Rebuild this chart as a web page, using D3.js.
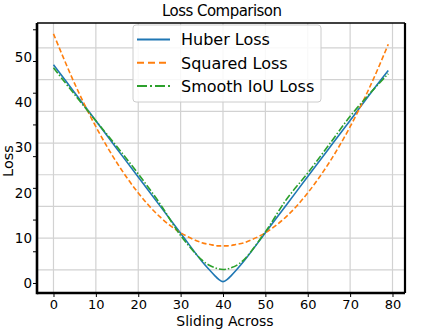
<!DOCTYPE html>
<html>
<head>
<meta charset="utf-8">
<script src="https://cdnjs.cloudflare.com/ajax/libs/d3/7.8.5/d3.min.js"></script>
<style>
body { margin: 0; background: #fff; }
text { font-family: "DejaVu Sans", sans-serif; fill: #000; }
</style>
</head>
<body>
<script>
var W = 423, H = 329;
var margin = {top: 23, right: 18, bottom: 36, left: 37};

// sliding offsets and losses
var xs      = [0, 5, 10, 15, 20, 25, 30, 35, 37, 38, 39, 40, 41, 42, 43, 45, 50, 55, 60, 65, 70, 75, 79];
var huber   = [48.3, 42.1, 35.9, 29.7, 23.5, 17.3, 11.1, 4.9, 2.8, 1.8, 0.9, 0.4, 0.9, 1.8, 2.8, 5.0, 11.2, 17.4, 23.6, 29.8, 36.0, 42.2, 47.0];
var squared = [55.1, 44.1, 34.6, 26.6, 20.0, 14.8, 11.2, 9.0, 8.6, 8.4, 8.3, 8.3, 8.3, 8.4, 8.6, 9.0, 11.2, 14.8, 20.0, 26.6, 34.6, 44.1, 52.8];
var smooth  = [47.6, 41.7, 35.9, 30.2, 24.2, 17.8, 10.6, 5.2, 3.9, 3.5, 3.2, 3.1, 3.2, 3.5, 3.9, 5.3, 11.4, 18.6, 24.4, 30.6, 36.9, 42.3, 46.3];

var seriesNames = ["Huber Loss", "Squared Loss", "Smooth IoU Loss"];
var xTicks = [0, 10, 20, 30, 40, 50, 60, 70, 80];
var yTicks = [0, 10, 20, 30, 40, 50];
var yMinorTicks = [0, 7, 14, 21, 28, 35, 42, 49, 56];
var yGrid = [3, 10, 17, 24, 31, 38, 45, 52];

var colors = ["#1f77b4", "#ff7f0e", "#2ca02c"];
var dashes = [null, "5,2.5", "7,2,1.5,2"];
var legendDashes = [null, "7,4", "10,3,2,3"];

var svg = d3.select("body").append("svg")
	.attr("width", W)
	.attr("height", H);

var x = d3.scaleLinear().domain([-3.89, 82.95]).range([margin.left, W - margin.right]);
var y = d3.scaleLinear().domain([-2.1, 57.5]).range([H - margin.bottom, margin.top]);

var plotL = margin.left, plotR = W - margin.right, plotT = margin.top, plotB = H - margin.bottom;

// grid
svg.append("g").selectAll("line")
	.data(xTicks)
	.enter().append("line")
	.attr("x1", d => x(d)).attr("x2", d => x(d))
	.attr("y1", plotT).attr("y2", plotB)
	.attr("stroke", "#d2d2d2").attr("stroke-width", 1.2);

svg.append("g").selectAll("line")
	.data(yGrid)
	.enter().append("line")
	.attr("x1", plotL).attr("x2", plotR)
	.attr("y1", d => y(d)).attr("y2", d => y(d))
	.attr("stroke", "#d2d2d2").attr("stroke-width", 1.2);

// curves
var allSeries = [huber, squared, smooth];
var line = d3.line()
	.x((d, i) => x(xs[i]))
	.y(d => y(d))
	.curve(d3.curveCatmullRom.alpha(0.5));

svg.append("g").selectAll("path")
	.data(allSeries)
	.enter().append("path")
	.attr("d", d => line(d))
	.attr("fill", "none")
	.attr("stroke", (d, i) => colors[i])
	.attr("stroke-width", 1.6)
	.attr("stroke-dasharray", (d, i) => dashes[i]);

// frame
svg.append("line").attr("x1", plotL).attr("x2", plotR).attr("y1", plotT).attr("y2", plotT)
	.attr("stroke", "#000").attr("stroke-width", 1.6);
svg.append("line").attr("x1", plotR).attr("x2", plotR).attr("y1", plotT).attr("y2", plotB)
	.attr("stroke", "#000").attr("stroke-width", 2.2);

// x axis
var xAxis = d3.axisBottom(x).tickValues(xTicks).tickSize(4).tickPadding(3);
var gx = svg.append("g").attr("transform", "translate(0," + plotB + ")").call(xAxis);
gx.select(".domain").remove();
gx.selectAll("text").style("font-size", "13px").attr("font-family", "DejaVu Sans");
gx.selectAll("line").attr("stroke", "#000");

// y axis: labels and small ticks
var yAxis = d3.axisLeft(y).tickValues(yTicks).tickSize(0).tickPadding(5);
var gy = svg.append("g").attr("transform", "translate(" + plotL + ",0)").call(yAxis);
gy.select(".domain").remove();
gy.selectAll("text").style("font-size", "13.5px").attr("font-family", "DejaVu Sans");

svg.append("g").selectAll("line")
	.data(yMinorTicks)
	.enter().append("line")
	.attr("x1", plotL - 4).attr("x2", plotL)
	.attr("y1", d => y(d)).attr("y2", d => y(d))
	.attr("stroke", "#000").attr("stroke-width", 1);

svg.append("line").attr("x1", plotL).attr("x2", plotR).attr("y1", plotB).attr("y2", plotB)
	.attr("stroke", "#000").attr("stroke-width", 2.6);
svg.append("line").attr("x1", plotL).attr("x2", plotL).attr("y1", plotT).attr("y2", plotB + 1.3)
	.attr("stroke", "#000").attr("stroke-width", 2.6);

// titles
svg.append("text").attr("x", 222).attr("y", 16).attr("text-anchor", "middle")
	.style("font-size", "15px").attr("textLength", 120).text("Loss Comparison");
svg.append("text").attr("x", 225).attr("y", 326).attr("text-anchor", "middle")
	.style("font-size", "14px").text("Sliding Across");
svg.append("text").attr("transform", "translate(13,161) rotate(-90)").attr("text-anchor", "middle")
	.style("font-size", "14.5px").text("Loss");

// legend
var lg = svg.append("g");
lg.append("rect").attr("x", 133).attr("y", 25).attr("width", 188).attr("height", 77)
	.attr("rx", 3).attr("fill", "#fff").attr("fill-opacity", 0.85)
	.attr("stroke", "#cccccc").attr("stroke-width", 1);
var items = lg.selectAll("g.item")
	.data(seriesNames)
	.enter().append("g")
	.attr("transform", (d, i) => "translate(0," + (39.5 + i * 23.3) + ")");
items.append("line")
	.attr("x1", 137).attr("x2", 170).attr("y1", 0).attr("y2", 0)
	.attr("stroke", (d, i) => colors[i])
	.attr("stroke-width", 2)
	.attr("stroke-dasharray", (d, i) => legendDashes[i]);
items.append("text")
	.attr("x", 181).attr("y", 0).attr("dy", "0.36em")
	.style("font-size", "16px")
	.text(d => d);
</script>
</body>
</html>
